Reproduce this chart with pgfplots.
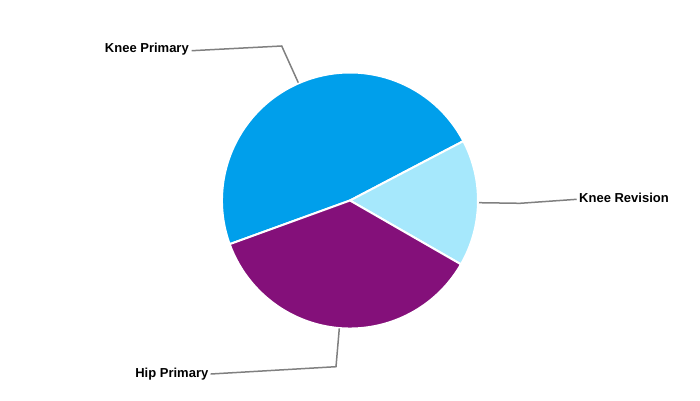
\documentclass[border=0pt]{standalone}
\usepackage{pgfplots}
\usepackage{pgfplotstable}
\pgfplotsset{compat=1.18}
\usepackage{fontspec}
\setmainfont{Liberation Sans}
\definecolor{kp}{RGB}{0,159,235}
\definecolor{kr}{RGB}{166,232,252}
\definecolor{hp}{RGB}{132,16,122}
\definecolor{lead}{RGB}{128,128,128}
\pgfplotstableread{
slice value
KP 47.86
KR 15.99
HP 36.15
}\piedata
\begin{document}
\begin{tikzpicture}
\pgfplotstablegetelem{0}{value}\of\piedata \let\vA\pgfplotsretval
\pgfplotstablegetelem{1}{value}\of\piedata \let\vB\pgfplotsretval
\pgfplotstablegetelem{2}{value}\of\piedata \let\vC\pgfplotsretval
\pgfmathsetmacro\sA{199.95}
\pgfmathsetmacro\eA{\sA-\vA*3.6}
\pgfmathsetmacro\eB{\eA-\vB*3.6}
\pgfmathsetmacro\eC{\eB-\vC*3.6}
\begin{axis}[
  width=700bp, height=400bp, scale only axis,
  xmin=0, xmax=700, ymin=0, ymax=400,
  hide axis, clip=false,
]
\addplot[draw=none] coordinates {(0,0) (700,400)};
\fill[kp, draw=white, line width=2bp] (axis cs:350,199.5) -- ++(\sA:128bp) arc[start angle=\sA, end angle=\eA, radius=128bp] -- cycle;
\fill[kr, draw=white, line width=2bp] (axis cs:350,199.5) -- ++(\eA:128bp) arc[start angle=\eA, end angle=\eB, radius=128bp] -- cycle;
\fill[hp, draw=white, line width=2bp] (axis cs:350,199.5) -- ++(\eB:128bp) arc[start angle=\eB, end angle=\eC, radius=128bp] -- cycle;
% leader lines
\draw[lead, line width=1.5bp] (axis cs:298.3,317.3) -- (axis cs:281.7,354) -- (axis cs:191.7,349.3);
\draw[lead, line width=1.5bp] (axis cs:479,197.3) -- (axis cs:520,196.7) -- (axis cs:576.7,200.7);
\draw[lead, line width=1.5bp] (axis cs:339.3,71.7) -- (axis cs:336,33.3) -- (axis cs:210.7,26);
\node[anchor=base east, inner sep=0pt, font=\fontsize{13bp}{15bp}\selectfont\bfseries] at (axis cs:189,347.4) {Knee Primary};
\node[anchor=base west, inner sep=0pt, font=\fontsize{13bp}{15bp}\selectfont\bfseries] at (axis cs:579,197.4) {Knee Revision};
\node[anchor=base east, inner sep=0pt, font=\fontsize{13bp}{15bp}\selectfont\bfseries] at (axis cs:208.5,22.4) {Hip Primary};
\end{axis}
\end{tikzpicture}
\end{document}
